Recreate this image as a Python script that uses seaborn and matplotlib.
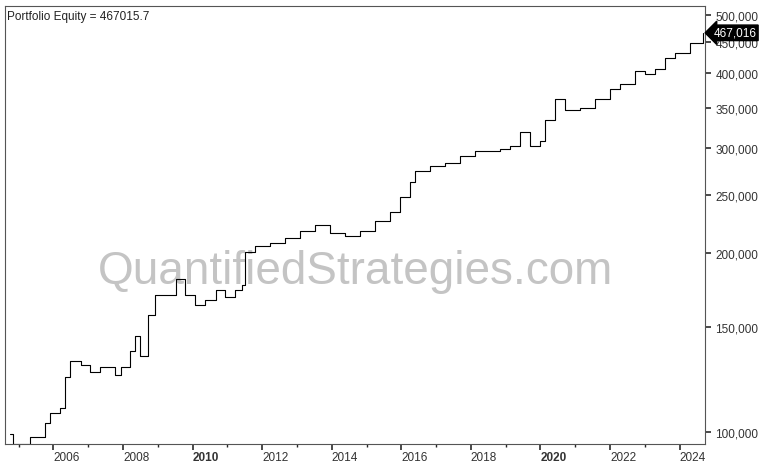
import matplotlib
matplotlib.use("Agg")
import matplotlib.pyplot as plt
import seaborn as sns
import pandas as pd
from matplotlib.ticker import FixedLocator, FuncFormatter, NullFormatter

years = [2004.76, 2004.85, 2005.34, 2005.77, 2005.91, 2006.20, 2006.32, 2006.49, 2006.78, 2007.06,
         2007.35, 2007.78, 2007.93, 2008.21, 2008.36, 2008.50, 2008.64, 2008.73, 2008.93, 2009.22,
         2009.51, 2009.79, 2010.08, 2010.37, 2010.66, 2010.94, 2011.23, 2011.43, 2011.52, 2011.80,
         2012.24, 2012.67, 2013.10, 2013.53, 2013.96, 2014.39, 2014.82, 2015.25, 2015.68, 2015.97,
         2016.26, 2016.40, 2016.83, 2017.26, 2017.70, 2018.13, 2018.56, 2018.84, 2019.13, 2019.42,
         2019.71, 2019.99, 2020.14, 2020.43, 2020.71, 2021.14, 2021.57, 2022.00, 2022.29, 2022.72,
         2023.00, 2023.29, 2023.58, 2023.87, 2024.30, 2024.67]
equity = [99600, 95700, 98400, 103600, 107800, 110000, 123800, 131500, 129900, 126300,
          128900, 124900, 128900, 136800, 145200, 134100, 134100, 157100, 170100, 170100,
          180500, 170100, 163500, 166700, 173500, 168700, 173500, 176900, 200900, 204900,
          207300, 211500, 217500, 222700, 215800, 213200, 217500, 226200, 233600, 247800,
          263000, 273600, 279100, 282500, 290400, 296200, 296200, 298500, 302100, 318200,
          302100, 308200, 333600, 361200, 347100, 349900, 361200, 375700, 383300, 403600,
          398800, 406800, 423200, 431600, 449100, 467016]
final_value = 467015.7

df = pd.DataFrame({"year": years, "equity": equity})

sns.set_theme(style="white")
plt.rcParams["font.family"] = ["Liberation Sans", "DejaVu Sans"]
fig, ax = plt.subplots(figsize=(7.68, 4.64), dpi=100)
fig.subplots_adjust(left=0.007, right=0.918, top=0.985, bottom=0.04)

sns.lineplot(data=df, x="year", y="equity", ax=ax, color="black", linewidth=0.8, drawstyle="steps-post")
ax.set_yscale("log")
ax.set_xlim(2004.62, 2024.73)
ax.set_ylim(95500, 518000)
ax.set_xlabel(""); ax.set_ylabel("")

yt = [100000, 150000, 200000, 250000, 300000, 350000, 400000, 450000, 500000]
ax.yaxis.set_major_locator(FixedLocator(yt))
ax.yaxis.set_minor_formatter(NullFormatter())
ax.yaxis.set_major_formatter(FuncFormatter(lambda v, p: f"{v:,.0f}"))
ax.yaxis.tick_right()
ax.tick_params(axis="y", labelsize=8.5, length=4, direction="out", right=True, colors="#333333")

xt = list(range(2006, 2025, 2))
ax.set_xticks(xt)
ax.set_xticklabels([str(y) for y in xt], fontsize=8.5, ha="left")
for lbl in ax.get_xticklabels():
    if lbl.get_text() in ("2010", "2020"):
        lbl.set_fontweight("bold")
ax.tick_params(axis="x", length=4, direction="out", bottom=True, pad=1, colors="#333333")
ax.set_xticks(list(range(2005, 2025)), minor=True)
ax.tick_params(axis="x", which="minor", length=2, bottom=True)

for s in ax.spines.values():
    s.set_color("#555555"); s.set_linewidth(0.8)

ax.text(0.5, 0.395, "QuantifiedStrategies.com", transform=ax.transAxes, ha="center", va="center",
        fontsize=33, color="#c4c4c4", zorder=0)
ax.text(0.003, 0.99, f"Portfolio Equity = {final_value}", transform=ax.transAxes, ha="left", va="top",
        fontsize=8.5, color="#222222")
ax.annotate(f"{round(final_value):,}", xy=(1.0, final_value), xycoords=("axes fraction", "data"),
            xytext=(6, 0), textcoords="offset points", ha="left", va="center", fontsize=8.5,
            color="white", bbox=dict(boxstyle="larrow,pad=0.15", fc="black", ec="black"))

fig.savefig("out.png", dpi=100)
